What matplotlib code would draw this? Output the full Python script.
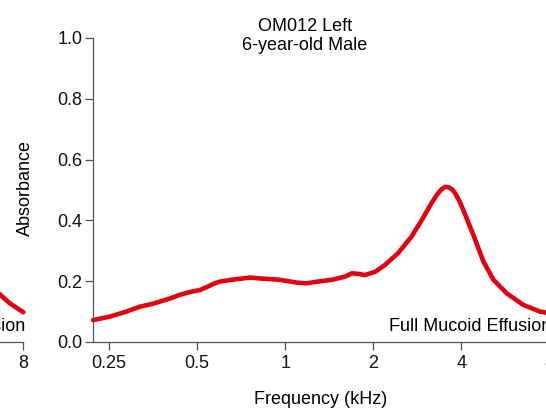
import matplotlib
matplotlib.use("Agg")
import matplotlib.pyplot as plt

## Data

# main panel: OM012 Left ear, absorbance vs frequency (kHz)
freq_khz = [0.22, 0.25, 0.28, 0.318, 0.35, 0.373, 0.40, 0.436, 0.47, 0.511,
            0.54, 0.57, 0.60, 0.647, 0.70, 0.758, 0.82, 0.886, 0.95, 1.04,
            1.1, 1.18, 1.3, 1.45, 1.6, 1.69, 1.78, 1.87, 2.03, 2.19,
            2.43, 2.70, 2.93, 3.17, 3.30, 3.42, 3.52, 3.62, 3.72, 3.81,
            3.96, 4.12, 4.40, 4.76, 5.15, 5.72, 6.52, 7.44, 8.0]
absorbance = [0.072, 0.083, 0.097, 0.116, 0.125, 0.133, 0.142, 0.155, 0.164, 0.171,
              0.181, 0.192, 0.199, 0.204, 0.208, 0.212, 0.209, 0.207, 0.205, 0.199,
              0.195, 0.193, 0.199, 0.205, 0.215, 0.226, 0.224, 0.220, 0.231, 0.253,
              0.292, 0.346, 0.401, 0.458, 0.484, 0.502, 0.510, 0.509, 0.502, 0.490,
              0.460, 0.420, 0.352, 0.265, 0.205, 0.160, 0.122, 0.100, 0.095]

# tail of the neighbouring panel (only its last part is visible)
left_freq_khz = [6.5, 7.2, 8.0]
left_absorbance = [0.165, 0.127, 0.098]

x_ticks = [0.25, 0.5, 1, 2, 4, 8]
x_tick_labels = ["0.25", "0.5", "1", "2", "4", "8"]
y_ticks = [0.0, 0.2, 0.4, 0.6, 0.8, 1.0]

## Style

plt.rcParams["font.family"] = ["Liberation Sans", "DejaVu Sans"]
plt.rcParams["font.size"] = 13
line_red = "#e3000f"
axis_grey = "#555555"

W, H = 546, 409
fig = plt.figure(figsize=(W / 100, H / 100), dpi=100)

ax_left_px, ax_right_px = 93, 549.3
ax_top_px, ax_bottom_px = 38, 342
panel_shift = 526


def make_axes(left_px):
    ax = fig.add_axes([left_px / W, (H - ax_bottom_px) / H,
                       (ax_right_px - ax_left_px) / W,
                       (ax_bottom_px - ax_top_px) / H])
    ax.set_xscale("log")
    ax.set_xlim(0.22, 8.0)
    ax.set_ylim(0, 1.0)
    ax.set_xticks(x_ticks)
    ax.set_xticklabels(x_tick_labels)
    ax.xaxis.set_minor_locator(matplotlib.ticker.NullLocator())
    ax.set_yticks(y_ticks)
    ax.set_yticklabels([f"{v:.1f}" for v in y_ticks])
    for side in ["top", "right"]:
        ax.spines[side].set_visible(False)
    for side in ["left", "bottom"]:
        ax.spines[side].set_color(axis_grey)
        ax.spines[side].set_linewidth(0.9)
    ax.tick_params(direction="out", length=5.5, width=0.9, color=axis_grey,
                   labelcolor="#111111")
    ax.tick_params(axis="x", pad=4)
    ax.tick_params(axis="y", pad=2)
    ax.patch.set_alpha(0)
    return ax


## Neighbouring panel (cut off on the left)

ax0 = make_axes(ax_left_px - panel_shift)
ax0.plot(left_freq_khz, left_absorbance, color=line_red, lw=3.3,
         solid_capstyle="round", clip_on=False)
ax0.text(1.005, 0.05, "Full Mucoid Effusion", transform=ax0.transAxes,
         ha="right", va="center", fontsize=13)

## Main panel

ax = make_axes(ax_left_px)
ax.plot(freq_khz, absorbance, color=line_red, lw=3.3,
        solid_capstyle="round", solid_joinstyle="round", clip_on=False)
ax.text(1.005, 0.05, "Full Mucoid Effusion", transform=ax.transAxes,
        ha="right", va="center", fontsize=13)

## Labels and title

fig.text(25 / W, 1 - 188 / H, "Absorbance", rotation=90,
         ha="center", va="center", fontsize=13)
fig.text(321 / W, 1 - 400 / H, "Frequency (kHz)",
         ha="center", va="center", fontsize=13)
fig.text(305 / W, 1 - 36 / H, "OM012 Left\n6-year-old Male",
         ha="center", va="center", fontsize=13, linespacing=1.2)

fig.savefig("out.png", dpi=100)
